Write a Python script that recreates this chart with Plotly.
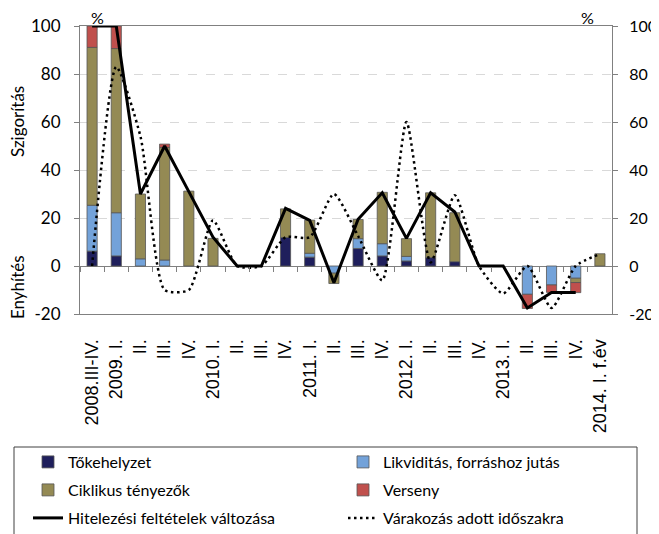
import plotly.graph_objects as go

categories = ["2008.III-IV.", "2009. I.", "II.", "III.", "IV.", "2010. I.", "II.", "III.", "IV.",
              "2011. I.", "II.", "III.", "IV.", "2012. I.", "II.", "III.", "IV.", "2013. I.",
              "II.", "III.", "IV.", "2014. I. f.év"]

tokehelyzet = [6.2, 4.2, 0, 0, 0, 0, 0, 0, 11.9, 3.7, 0, 7.3, 4.2, 2.1, 3.5, 1.8, 0, 0, 0, 0, 0, 0]
likviditas = [19.1, 18.0, 3.0, 2.5, 0, 0, 0, 0, 0, 1.6, -3.0, 4.1, 5.1, 1.9, 0, 0, 0, 0, -11.8, -7.9, -5.1, 0]
ciklikus = [65.8, 68.4, 27.0, 46.9, 31.2, 11.5, 0, 0, 11.9, 13.8, -4.3, 8.0, 21.4, 7.4, 27.0, 20.4, 0, 0, 0, 0, -1.8, 5.1]
verseny = [8.9, 9.4, 0, 1.4, 0, 0, 0, 0, 0, 0, 0, 0, 0, 0, 0, 0, 0, 0, -5.9, -3.1, -4.2, 0]
hitelezesi = [100, 100, 30, 50, 31, 12, 0, 0, 24, 19, -7, 19.5, 30.5, 11.5, 30.5, 22.5, 0, 0, -17.5, -11, -11, None]
varakozas = [0, 83, 54, -10, -10, 19, 0, 0, 12, 12, 30, 12.5, -6, 60, 1.5, 29.5, 0, -11.5, 0, -17.5, 0, 5]

y_ticks = [-20, 0, 20, 40, 60, 80, 100]
y_tick_labels = ["-20", "0", "20", "40", "60", "80", "100"]
y_min, y_max = y_ticks[0], y_ticks[-1]

# the page body has an 8px default margin, so the figure is drawn 8px smaller
OFF = 8
W, H = 659 - OFF, 534 - OFF
ML, MR, MT, MB = 80 - OFF, 47, 26 - OFF, 220
PW, PH = W - ML - MR, H - MT - MB


def px_x(px):
    return (px - OFF - ML) / PW


def px_y(py):
    return (H - MB - (py - OFF)) / PH


x_idx = list(range(len(categories)))

fig = go.Figure()

bar_specs = [
    ("Tőkehelyzet", tokehelyzet, "#1F1F5C", "legend"),
    ("Likviditás, forráshoz jutás", likviditas, "#73A2D9", "legend2"),
    ("Ciklikus tényezők", ciklikus, "#948A54", "legend3"),
    ("Verseny", verseny, "#C0504D", "legend4"),
]
for name, vals, col, lg in bar_specs:
    fig.add_trace(go.Bar(
        x=x_idx, y=[v if v != 0 else None for v in vals], name=name, legend=lg,
        marker=dict(color=col, line=dict(color="#555555", width=0.8)),
    ))

fig.add_trace(go.Scatter(
    x=x_idx, y=hitelezesi, name="Hitelezési feltételek változása", mode="lines", legend="legend5",
    line=dict(color="black", width=3),
))
fig.add_trace(go.Scatter(
    x=x_idx, y=varakozas, name="Várakozás adott időszakra", mode="lines", legend="legend6",
    xaxis="x2", yaxis="y2",
    line=dict(color="black", width=2.5, dash="2.5px,3.5px", shape="spline", smoothing=0.6),
))

zero_pos = (0 - y_min) / (y_max - y_min)
n = len(categories)
tickfont_y = dict(family="Lato", size=17, color="black")
tickfont_y2 = dict(family="Lato", size=16, color="black")
legend_font = dict(family="Lato", size=16, color="black")


def item_legend(x_px, y_px):
    return dict(
        orientation="v", xref="paper", yref="paper",
        x=px_x(x_px), y=px_y(y_px), xanchor="left", yanchor="middle",
        bgcolor="rgba(0,0,0,0)", borderwidth=0, font=legend_font,
    )


def label(text, x_px, y_px, angle=0, size=17):
    return dict(text=text, xref="paper", yref="paper", x=px_x(x_px), y=px_y(y_px),
                xanchor="center", yanchor="middle", textangle=angle,
                showarrow=False, font=dict(family="Lato", size=size, color="black"))


fig.update_layout(
    width=W, height=H,
    margin=dict(l=ML, r=MR, t=MT, b=MB, autoexpand=False),
    plot_bgcolor="white", paper_bgcolor="white",
    barmode="relative", bargap=0.58,
    showlegend=True,
    xaxis=dict(
        range=[-0.5, n - 0.5], tickmode="array", tickvals=x_idx, ticktext=categories,
        tickangle=-90, ticks="", showline=True, mirror=True, linecolor="#808080",
        showgrid=False, zeroline=False, ticklabelstandoff=17, automargin=False,
        tickfont=dict(family="Liberation Sans", size=18, color="black"),
    ),
    xaxis2=dict(
        overlaying="x", anchor="free", position=zero_pos, range=[-0.5, n - 0.5],
        tick0=0.5, dtick=1, ticks="outside", ticklen=5, tickcolor="#808080",
        showticklabels=False, showline=False, showgrid=False, zeroline=False, automargin=False,
    ),
    yaxis=dict(
        range=[y_min, y_max], tickmode="array", tickvals=y_ticks, ticktext=y_tick_labels,
        ticks="outside", ticklen=5, tickcolor="#808080",
        showline=True, linecolor="#808080", gridcolor="#D9D9D9", griddash="dash",
        zeroline=True, zerolinecolor="#808080", zerolinewidth=1, automargin=False,
        tickfont=tickfont_y, ticklabelstandoff=10,
    ),
    yaxis2=dict(
        overlaying="y", side="right", anchor="x", range=[y_min, y_max],
        tickmode="array", tickvals=y_ticks, ticktext=y_tick_labels,
        ticks="outside", ticklen=5, tickcolor="#808080", showline=True, linecolor="#808080",
        showgrid=False, zeroline=False, tickfont=tickfont_y2, ticklabelstandoff=8,
        automargin=False,
    ),
    legend=item_legend(28, 462),
    legend2=item_legend(343, 462),
    legend3=item_legend(28, 490),
    legend4=item_legend(343, 490),
    legend5=item_legend(28, 518),
    legend6=item_legend(343, 518),
    shapes=[
        dict(type="rect", xref="paper", yref="paper",
             x0=px_x(14), x1=px_x(637), y0=px_y(447), y1=px_y(540),
             line=dict(color="#404040", width=1), fillcolor="rgba(0,0,0,0)", layer="above"),
    ],
    annotations=[
        label("Szigorítás", 17, 122, -90),
        label("Enyhítés", 17, 287, -90),
        label("%", 97, 17, 0, 16),
        label("%", 587, 17, 0, 16),
    ],
)

fig.write_html("out.html")
